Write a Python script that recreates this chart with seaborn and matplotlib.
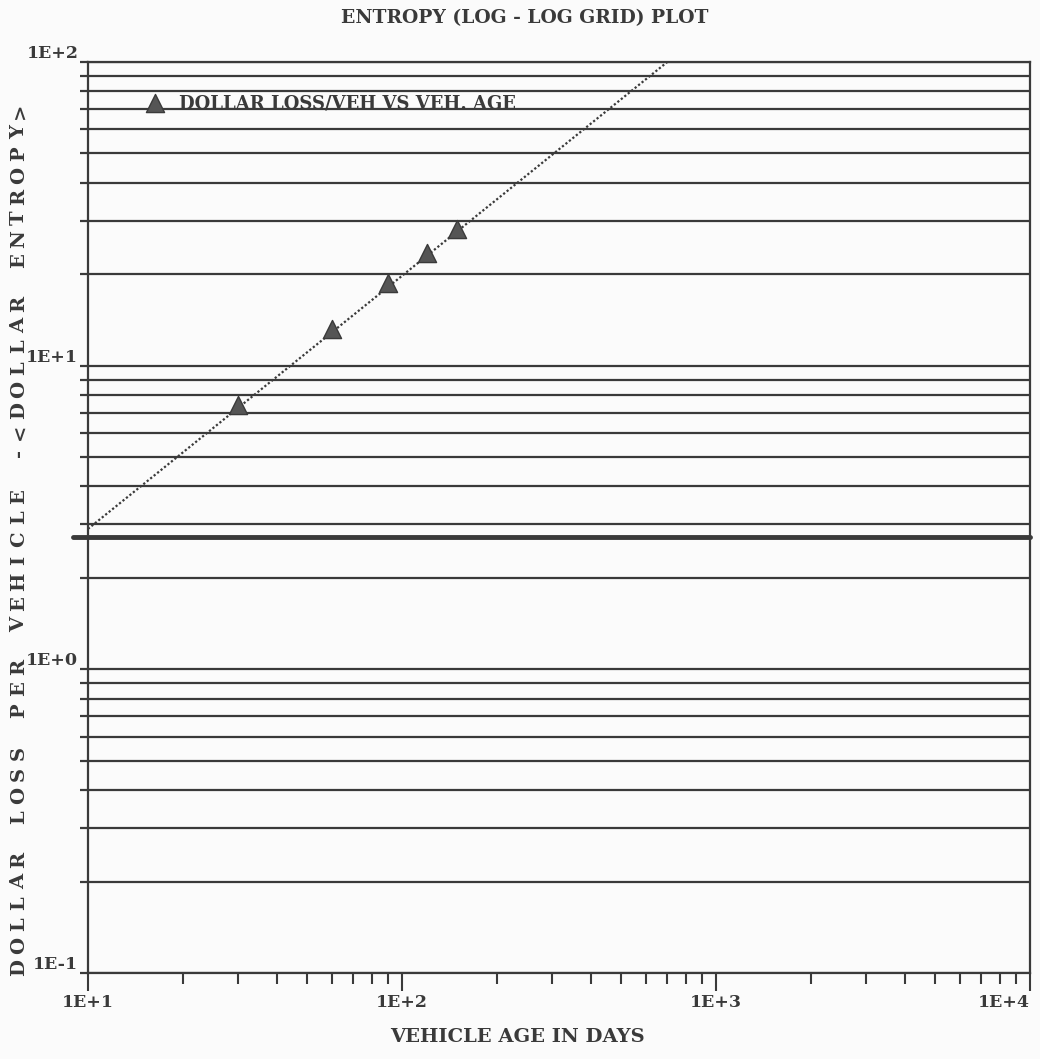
import numpy as np
import pandas as pd
import matplotlib.pyplot as plt
import seaborn as sns

# Vehicle age (days) vs dollar loss per vehicle
age_days = [30, 60, 90, 120, 150]
dollar_loss = [7.4, 13.2, 18.7, 23.5, 28.1]

# fitted straight line on log-log grid
fit_age = [10, 700]
fit_loss = [2.9, 100]

# reference level drawn as heavy line (e)
ref_level = np.e

sns.set_style("white")
plt.rcParams['font.family'] = ['DejaVu Serif']
plt.rcParams['font.weight'] = 'bold'
ink = '#3a3a3a'

pts = pd.DataFrame({'age': age_days, 'loss': dollar_loss})
fit = pd.DataFrame({'age': fit_age, 'loss': fit_loss})

fig = plt.figure(figsize=(10.4, 10.59), dpi=100)
fig.patch.set_facecolor('#fbfbfb')
ax = fig.add_axes([0.0846, 0.0812, 0.9058, 0.8603])
ax.set_facecolor('#fbfbfb')
ax.set_xscale('log')
ax.set_yscale('log')
ax.set_xlim(10, 1e4)
ax.set_ylim(0.1, 100)

# horizontal log grid
ax.yaxis.grid(True, which='both', color=ink, linewidth=1.6)
ax.xaxis.grid(False, which='both')
ax.axhline(ref_level, xmin=-0.016, xmax=1, color=ink, linewidth=3.5, clip_on=False)

sns.lineplot(data=fit, x='age', y='loss', ax=ax, color=ink, linestyle=(0, (1, 1)),
             linewidth=1.6, legend=False)
sns.scatterplot(data=pts, x='age', y='loss', ax=ax, marker='^', s=170, color='#555555',
                edgecolor=ink, linewidth=1, label='DOLLAR LOSS/VEH VS VEH. AGE', zorder=5)

fmt = lambda v, p: f"1E{int(round(np.log10(v))):+d}"
ax.xaxis.set_major_formatter(plt.FuncFormatter(fmt))
ax.yaxis.set_major_formatter(plt.FuncFormatter(fmt))
ax.xaxis.set_minor_formatter(plt.NullFormatter())
ax.yaxis.set_minor_formatter(plt.NullFormatter())
ax.tick_params(axis='x', which='both', bottom=True, top=False)
ax.tick_params(axis='y', which='both', left=True, right=False)
ax.tick_params(axis='x', which='major', direction='out', length=13, width=1.5, color=ink,
               labelsize=12.5, labelcolor=ink, pad=2)
ax.tick_params(axis='x', which='minor', direction='out', length=8, width=1.5, color=ink)
ax.tick_params(axis='y', which='both', direction='out', length=6, width=1.6, color=ink,
               labelsize=12.5, labelcolor=ink, pad=1)
fig.canvas.draw()
for lab in ax.get_yticklabels():
    lab.set_va('bottom')
xlabs = ax.get_xticklabels()
for lab in xlabs:
    if lab.get_text() == '1E+4':
        lab.set_ha('right')

for side in ['left', 'bottom', 'right', 'top']:
    ax.spines[side].set_color(ink)
    ax.spines[side].set_linewidth(1.6)
ax.set_xlabel('')
ax.set_ylabel('')

leg = ax.legend(loc='upper left', bbox_to_anchor=(0.0446, 0.9726), frameon=False,
                handletextpad=0.3, borderaxespad=0, fontsize=13)
for t in leg.get_texts():
    t.set_color(ink)

fig.text(0.505, 0.983, 'ENTROPY (LOG - LOG GRID) PLOT', ha='center', va='center',
         fontsize=13.5, color=ink)
fig.text(0.498, 0.021, 'VEHICLE AGE IN DAYS', ha='center', va='center',
         fontsize=14, color=ink)

ylabel = 'DOLLAR LOSS PER VEHICLE -<DOLLAR ENTROPY>'
for i, ch in enumerate(ylabel):
    y_px = 967 - i * 21.4
    fig.text(19 / 1040, 1 - y_px / 1059, ch, rotation=90, ha='center', va='center',
             fontsize=14, color=ink)

fig.savefig('out.png', dpi=100, facecolor=fig.get_facecolor())
